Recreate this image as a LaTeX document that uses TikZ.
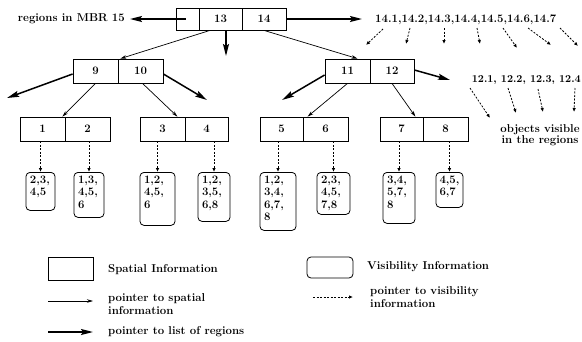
\documentclass[tikz,border=0pt]{standalone}
\usetikzlibrary{arrows.meta}
\begin{document}
\begin{tikzpicture}[x=1pt,y=-1pt,
  font=\fontsize{11.4}{12.5}\selectfont\bfseries,
  cell/.style={draw, line width=0.8pt, minimum height=24pt, inner sep=0pt},
  vis/.style={draw, line width=0.8pt, rounded corners=4pt, anchor=north,
              inner xsep=4pt, inner ysep=3pt, align=left, text height=8pt},
  sptr/.style={line width=0.7pt, -{Stealth[length=6pt,width=3.5pt]}},
  lptr/.style={line width=1.5pt, -{Stealth[length=12pt,width=6pt,inset=2pt]}},
  vptr/.style={line width=0.8pt, dash pattern=on 2pt off 1.5pt,
               -{Latex[length=4pt,width=3.5pt]}},
  lbl/.style={inner sep=0pt}]
\useasboundingbox (0,0) rectangle (582,341);

% root node of the tree
\node[cell, minimum height=22pt, minimum width=23pt] (c0)  at (187.5,19) {};
\node[cell, minimum height=22pt, minimum width=43pt] (c13) at (220.5,19) {13};
\node[cell, minimum height=22pt, minimum width=44pt] (c14) at (264,19) {14};

% second level
\node[cell, minimum width=45pt] (c9)  at (95.5,71) {9};
\node[cell, minimum width=45pt] (c10) at (140.5,71) {10};
\node[cell, minimum width=45pt] (c11) at (347.5,71) {11};
\node[cell, minimum width=44pt] (c12) at (392,71) {12};

% leaf level
\node[cell, minimum width=45pt] (c1) at (42.5,129) {1};
\node[cell, minimum width=45pt] (c2) at (87.5,129) {2};
\node[cell, minimum width=45pt] (c3) at (162.5,129) {3};
\node[cell, minimum width=43pt] (c4) at (206.5,129) {4};
\node[cell, minimum width=43pt] (c5) at (281.5,129) {5};
\node[cell, minimum width=45pt] (c6) at (325.5,129) {6};
\node[cell, minimum width=43pt] (c7) at (401.5,129) {7};
\node[cell, minimum width=45pt] (c8) at (445.5,129) {8};

% visibility lists
\node[vis, text width=21pt, text depth=24pt] (v1) at (40.5,172) {2,3,\\4,5};
\node[vis, text width=22pt, text depth=31pt] (v2) at (89,172)   {1,3,\\4,5,\\6};
\node[vis, text width=27pt, text depth=39pt] (v3) at (157.5,172) {1,2,\\4,5,\\6};
\node[vis, text width=24pt, text depth=35pt] (v4) at (214,172)  {1,2,\\3,5,\\6,8};
\node[vis, text width=28pt, text depth=44pt] (v5) at (278,172)  {1,2,\\3,4,\\6,7,\\8};
\node[vis, text width=25pt, text depth=28pt] (v6) at (333.5,172) {2,3,\\4,5,\\7,8};
\node[vis, text width=24pt, text depth=37pt] (v7) at (399,172)  {3,4,\\5,7,\\8};
\node[vis, text width=20pt, text depth=21pt, inner xsep=3.5pt] (v8) at (449.5,172) {4,5,\\6,7};

\foreach \k in {1,...,8}
  \draw[vptr] (v\k.north |- c\k.south) -- (v\k.north);

% labels
\node[lbl, anchor=east] (m15) at (125,19) {regions in MBR 15};
\node[lbl, anchor=west] (l14) at (375,20) {14.1,14.2,14.3,14.4,14.5,14.6,14.7};
\node[lbl, anchor=east, font=\fontsize{10.6}{12}\selectfont\bfseries] (l12) at (581,80) {12.1, 12.2, 12.3, 12.4};
\node[lbl, align=center, font=\fontsize{11.4}{11}\selectfont\bfseries] (obj) at (540,135) {objects visible\\in the regions};

% pointers to lists of regions
\coordinate (t15) at (130,19);
\coordinate (t14) at (362,19);
\coordinate (tdn) at (226,56);
\coordinate (t9)  at (7,98);
\coordinate (t10) at (207,100);
\coordinate (t11) at (282,100);
\coordinate (t12) at (450,80);
\draw[lptr] ([xshift=-2pt]c0.center) -- (t15);
\draw[lptr] (c14.east) -- (t14);
\draw[lptr] ([xshift=5.5pt]c13.south) -- (tdn);
\draw[lptr] ([yshift=-3pt]c9.west) -- (t9);
\draw[lptr] ([yshift=-3pt]c10.east) -- (t10);
\draw[lptr] ([yshift=-4pt]c11.west) -- (t11);
\draw[lptr] ([yshift=1pt]c12.east) -- (t12);

% pointers to spatial information
\draw[sptr] ([xshift=-10.5pt]c13.south) -- ([xshift=2pt]c9.north east);
\draw[sptr] (c14.south) -- ([xshift=10pt]c11.north);
\draw[sptr] (c9.south) -- ([xshift=-3pt]c1.north east);
\draw[sptr] ([xshift=2pt]c10.south) -- ([xshift=-8pt]c3.north east);
\draw[sptr] (c11.south) -- ([xshift=5pt]c6.north west);
\draw[sptr] (c12.south) -- ([xshift=-8pt]c7.north east);

% objects visible in regions of MBR 14 and MBR 12
\foreach \i/\sx/\sy/\ex/\ey in {1/383/29/366/45, 2/410/28/406/44, 3/444/28/444/44,
    4/477/28/480/44, 5/503/28/517/48, 6/528/28/551/45, 7/560/28/578/46,
    8/470/88/490/118, 9/508/88/516/113, 10/538/89/543/112, 11/575/88/574/112} {
  \coordinate (r\i) at (\sx,\sy);
  \coordinate (q\i) at (\ex,\ey);
  \draw[vptr] (r\i) -- (q\i);
}

% legend
\node[cell, minimum width=45pt, minimum height=23pt] (ls) at (70.5,268.5) {};
\node[lbl, anchor=west] (lst) at (108,270) {Spatial Information};
\node[draw, line width=0.8pt, rounded corners=4pt, minimum width=46pt,
      minimum height=21pt, inner sep=0pt] (lv) at (330,267.5) {};
\node[lbl, anchor=west] (lvt) at (367,267) {Visibility Information};

\coordinate (lt1) at (48,301);
\coordinate (lt2) at (93,301);
\draw[sptr] (lt1) -- (lt2);
\node[lbl, anchor=west, align=left] (ltt) at (108,304) {pointer to spatial\\information};

\coordinate (lk1) at (48,332);
\coordinate (lk2) at (93,332);
\draw[lptr] (lk1) -- (lk2);
\node[lbl, anchor=west] (lkt) at (108,332) {pointer to list of regions};

\coordinate (ld1) at (313,297);
\coordinate (ld2) at (353,297);
\draw[vptr] (ld1) -- (ld2);
\node[lbl, anchor=west, align=left] (ldt) at (370,297) {pointer to visibility\\information};
\end{tikzpicture}
\end{document}
